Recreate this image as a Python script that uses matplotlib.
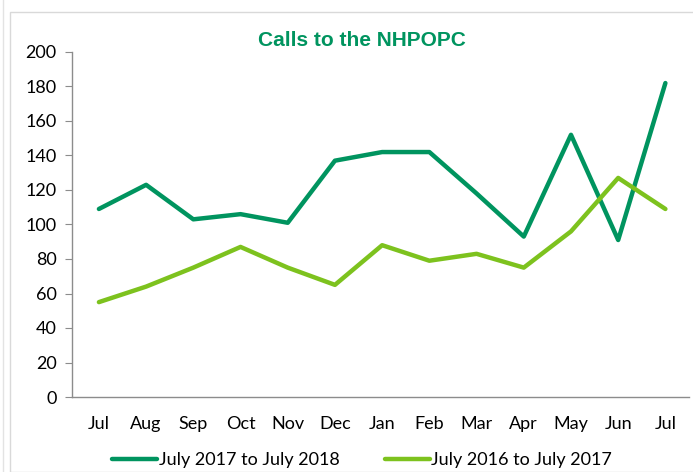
import matplotlib

matplotlib.use("Agg")

import matplotlib.pyplot as plt
from matplotlib.patches import Rectangle
from matplotlib.lines import Line2D

months = ["Jul", "Aug", "Sep", "Oct", "Nov", "Dec", "Jan", "Feb", "Mar", "Apr", "May", "Jun", "Jul"]
calls_2017_2018 = [109, 123, 103, 106, 101, 137, 142, 142, 118, 93, 152, 91, 182]
calls_2016_2017 = [55, 64, 75, 87, 75, 65, 88, 79, 83, 75, 96, 127, 109]
yticks = list(range(0, 201, 20))

DARK = "#00945f"
LIGHT = "#7dc21e"
AXIS_GRAY = "#8c8c8c"

plt.rcParams["font.family"] = ["Lato", "DejaVu Sans"]

W, H = 693, 472
fig = plt.figure(figsize=(W / 100, H / 100), dpi=100)

# outer chart frame and the strip on the left
fig.patches.append(Rectangle((10 / W, 0), 1.0, 1 - 12 / H, transform=fig.transFigure,
                             fill=False, edgecolor="#d9d9d9", linewidth=1.0))
fig.add_artist(Line2D([3 / W, 3 / W], [0, 1], transform=fig.transFigure, color="#e3e3e3", lw=1))

left, right, bottom, top = 72, 689, 397, 52
ax = fig.add_axes([left / W, 1 - bottom / H, (right - left) / W, (bottom - top) / H])

x = range(len(months))
ax.plot(x, calls_2017_2018, color=DARK, lw=3.2, solid_capstyle="round", solid_joinstyle="round",
        label="July 2017 to July 2018")
ax.plot(x, calls_2016_2017, color=LIGHT, lw=3.2, solid_capstyle="round", solid_joinstyle="round",
        label="July 2016 to July 2017")

ax.set_xlim(-0.57, 12.5)
ax.set_ylim(0, 200)
ax.set_yticks(yticks)
ax.set_xticks(list(x))
ax.set_xticklabels(months)

for side in ("top", "right"):
    ax.spines[side].set_visible(False)
for side in ("left", "bottom"):
    ax.spines[side].set_color(AXIS_GRAY)
    ax.spines[side].set_linewidth(1.0)

ax.tick_params(axis="y", length=5, color=AXIS_GRAY, labelsize=13, pad=6, direction="out")
ax.tick_params(axis="x", length=0, labelsize=13, pad=14)

fig.text(362 / W, 1 - 40 / H, "Calls to the NHPOPC", ha="center", va="center",
         fontsize=15, fontweight="bold", color=DARK,
         family=["Liberation Sans", "DejaVu Sans"])

fig.legend(loc="center", bbox_to_anchor=(362 / W, 1 - 460 / H), ncol=2, frameon=False,
           fontsize=13, handlelength=2.5, handletextpad=0.1, columnspacing=2.5)

fig.savefig("out.png", dpi=100)
